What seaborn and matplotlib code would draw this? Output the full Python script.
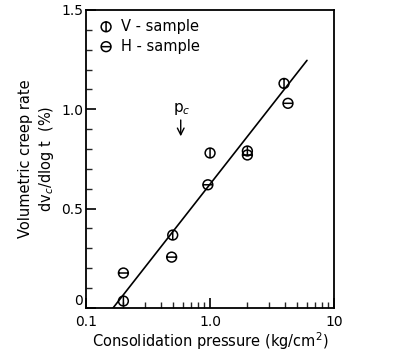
import numpy as np
import pandas as pd
import matplotlib
matplotlib.use("Agg")
import matplotlib.pyplot as plt
from matplotlib.path import Path
from matplotlib.ticker import FixedLocator, NullFormatter
import seaborn as sns

# data
v_pressure = [0.2, 0.5, 1.0, 2.0, 3.95]
v_rate = [0.035, 0.367, 0.78, 0.79, 1.13]
h_pressure = [0.2, 0.49, 0.96, 2.0, 4.25]
h_rate = [0.176, 0.256, 0.62, 0.77, 1.03]
fit_pressure = [0.165, 6.05]
fit_rate = [0.0, 1.246]
pc_value = 0.58

sns.set_theme(style="ticks")
plt.rcParams['font.family'] = ['DejaVu Sans']
plt.rcParams['text.color'] = 'black'
plt.rcParams['axes.labelcolor'] = 'black'

def circle_line(vertical=True):
    c = Path.unit_circle()
    seg = [(0, -1), (0, 1)] if vertical else [(-1, 0), (1, 0)]
    verts = list(c.vertices) + seg
    codes = list(c.codes) + [Path.MOVETO, Path.LINETO]
    return Path(verts, codes)

m_v = circle_line(True)
m_h = circle_line(False)

df = pd.concat([
    pd.DataFrame({"p": v_pressure, "r": v_rate, "s": "V - sample"}),
    pd.DataFrame({"p": h_pressure, "r": h_rate, "s": "H - sample"}),
])
fit = pd.DataFrame({"p": fit_pressure, "r": fit_rate})

fig = plt.figure(figsize=(3.93, 3.54), dpi=100)
ax = fig.add_axes([0.219, 0.130, 0.631, 0.842])

sns.lineplot(data=fit, x="p", y="r", ax=ax, color="black", lw=1.2)
sns.scatterplot(data=df, x="p", y="r", style="s",
                markers={"V - sample": m_v, "H - sample": m_h},
                ax=ax, s=50, facecolor="none", edgecolor="black", linewidth=1.1,
                color="black", legend=False)

ax.set_xscale("log")
ax.set_xlim(0.1, 10)
ax.set_ylim(0, 1.5)

ax.set_xticks([0.1, 1, 10])
ax.set_xticklabels(["0.1", "1.0", "10"])
ax.xaxis.set_minor_locator(FixedLocator([a * b for b in (0.1, 1) for a in range(2, 10)]))
ax.xaxis.set_minor_formatter(NullFormatter())
ax.set_yticks([0, 0.5, 1.0, 1.5])
ax.set_yticklabels(["0", "0.5", "1.0", "1.5"])
ax.yaxis.set_minor_locator(FixedLocator(np.arange(0, 1.51, 0.1)))
ax.tick_params(axis="both", which="major", direction="in", length=7, width=1.2, labelsize=10,
               colors="black")
ax.tick_params(axis="x", which="major", pad=5)
ax.tick_params(axis="y", which="major", pad=2)
ax.tick_params(axis="both", which="minor", direction="in", length=4, width=1.0)
ylabs = ax.get_yticklabels()
ylabs[0].set_verticalalignment("bottom")
for sp in ax.spines.values():
    sp.set_linewidth(1.3)
    sp.set_color("black")

ax.set_xlabel("Consolidation pressure (kg/cm$^2$)", fontsize=10.5, labelpad=1, color="black")
ax.set_ylabel("Volumetric creep rate\ndv$_c$/dlog t  (%)", fontsize=10.5, labelpad=4,
              linespacing=1.3, color="black")

# legend
lx = 0.145
ax.scatter([lx], [1.415], marker=m_v, s=50, facecolors="none", edgecolors="black", linewidths=1.1)
ax.scatter([lx], [1.315], marker=m_h, s=50, facecolors="none", edgecolors="black", linewidths=1.1)
ax.text(0.19, 1.415, "V - sample", fontsize=10.5, va="center", color="black")
ax.text(0.19, 1.315, "H - sample", fontsize=10.5, va="center", color="black")

# Pc annotation
ax.annotate("", xy=(pc_value, 0.85), xytext=(pc_value, 0.96),
            arrowprops=dict(arrowstyle="->", color="black", lw=1.0))
ax.text(pc_value * 1.02, 1.0, "p$_c$", fontsize=11, ha="center", va="center", color="black")

fig.savefig("out.png", dpi=100)
